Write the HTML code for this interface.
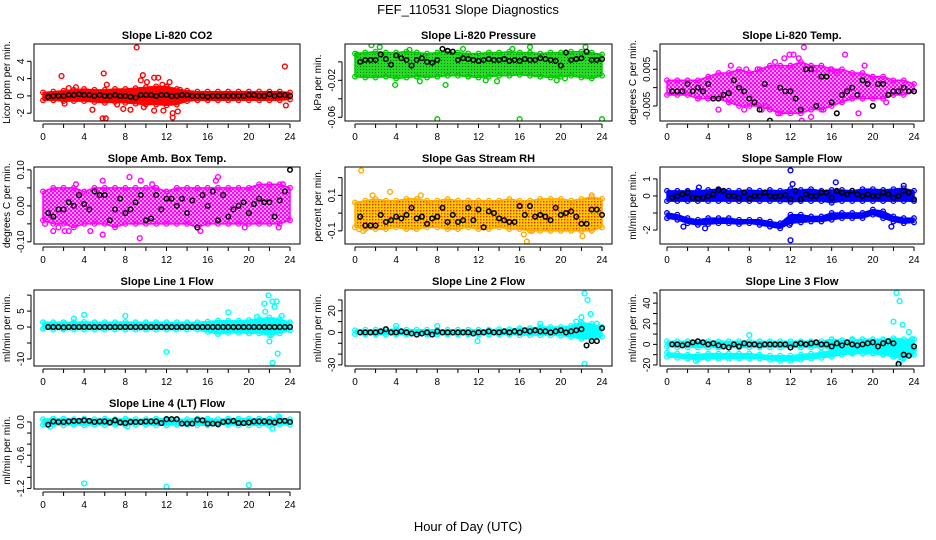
<!DOCTYPE html>
<html><head><meta charset="utf-8"><style>
html,body{margin:0;padding:0;background:#fff;}
svg{display:block;font-family:"Liberation Sans",sans-serif;}
</style></head><body>
<svg id="chart" width="936" height="540" viewBox="0 0 936 540" xmlns="http://www.w3.org/2000/svg">
<defs>
<pattern id="pat-green" width="3" height="3" patternUnits="userSpaceOnUse"><rect width="3" height="3" fill="#22dd22"/><rect width="1" height="1" fill="#0a5a0a"/></pattern>
<pattern id="pat-orange" width="3" height="3" patternUnits="userSpaceOnUse"><rect width="3" height="3" fill="#ffcc00"/><rect width="1.4" height="1.4" fill="#ee2200"/></pattern>
<pattern id="pat-magenta" width="4" height="4" patternUnits="userSpaceOnUse"><rect width="4" height="4" fill="#ff99ff"/><rect width="2" height="2" fill="#ff00ff"/><rect x="2" y="2" width="2" height="2" fill="#ff00ff"/></pattern>
</defs>
<text x="468" y="14" text-anchor="middle" font-size="13">FEF_110531  Slope Diagnostics</text>
<text x="468" y="531" text-anchor="middle" font-size="13">Hour of Day (UTC)</text>
</svg>
<script>
// ---- data ----
const bandHours=[0,1,2,3,4,5,6,7,8,9,10,11,12,13,14,15,16,17,18,19,20,21,22,23,24];
const blackHours=[0.5,1,1.5,2,2.5,3,3.5,4,4.5,5,5.5,6,6.5,7,7.5,8,8.5,9,9.5,10,10.5,11,11.5,12,12.5,13,13.5,14,14.5,15,15.5,16,16.5,17,17.5,18,18.5,19,19.5,20,20.5,21,21.5,22,22.5,23,23.5,24];

const co2Lo=[-0.5,-0.5,-0.6,-0.6,-0.6,-0.7,-0.8,-0.7,-0.8,-0.9,-1,-1,-1.1,-1,-0.6,-0.5,-0.5,-0.5,-0.5,-0.5,-0.5,-0.5,-0.5,-0.5,-0.4];
const co2Hi=[0.4,0.5,0.6,0.7,0.8,0.7,0.7,0.8,0.8,0.9,1,1.1,1.1,0.8,0.6,0.5,0.5,0.5,0.5,0.5,0.5,0.5,0.5,0.5,0.4];
const co2PtsX=[1.8,5.9,6.2,9.1,9.7,9.5,10.1,10.8,11.2,12.3,11.6,4.8,5.8,6.1,7.8,8.5,10.8,11.7,12.6,12.6,13.1,9.8,23.5,23.6,3.2,2.1,13.3,12.0,2.5,7.2];
const co2PtsY=[2.3,2.6,1.3,5.6,2.4,1.8,1.6,2.1,2.1,1.6,1.3,-1.6,-2.6,-2.6,-1.5,-1.6,-1.7,-1.7,-2.0,-2.5,-1.8,-1.3,3.4,-1.1,1.0,-0.9,0.7,1.1,0.9,-1.0];
const co2Black=[-0.1,0,0,0,0.1,0.1,0.2,0.1,0.1,0,0.1,0,0,0.1,0,0,-0.1,-0.2,0.1,0.1,0.1,0,0.1,0.1,0,0,0.1,0.1,0,0,0,-0.1,0,0,0,0,0,0,0,0.1,0.1,0,0,0.2,0,0.1,0.1,0];

const presLo=[-0.016,-0.017,-0.017,-0.016,-0.018,-0.017,-0.016,-0.017,-0.016,-0.015,-0.015,-0.016,-0.017,-0.016,-0.015,-0.015,-0.014,-0.015,-0.016,-0.017,-0.016,-0.015,-0.017,-0.018,-0.015];
const presHi=[0.009,0.010,0.011,0.010,0.010,0.011,0.010,0.009,0.010,0.011,0.010,0.009,0.009,0.010,0.010,0.011,0.010,0.010,0.009,0.010,0.010,0.011,0.011,0.010,0.008];
const presPtsX=[8,16,24,1.6,8.8,3.9,0.2,2.4,5.3,10.5,12.7,17,15.3,22.4,20.4,6.3,13.8,19.6];
const presPtsY=[-0.062,-0.062,-0.062,0.018,-0.025,-0.025,0.008,0.016,0.013,0.014,-0.02,0.016,0.014,0.016,-0.018,-0.021,-0.021,-0.02];
const presBlack=[0,0.002,0.002,0.002,0.008,0.003,-0.003,0.007,0.004,0.002,-0.004,0.002,0.004,0,-0.001,0.002,0.014,0.012,0.011,0.002,0.004,0.003,0.002,0.001,0.002,0.003,0.002,0.002,0.003,0.001,0.002,0.001,0.003,0.002,0.002,0.004,0.003,0.002,0.001,-0.004,0.010,0.002,0.003,0.004,0.011,0.002,0.002,0.003];

const tempLo=[-0.002,-0.002,-0.002,-0.003,-0.003,-0.003,-0.004,-0.005,-0.005,-0.005,-0.006,-0.007,-0.007,-0.007,-0.006,-0.006,-0.005,-0.004,-0.003,-0.003,-0.003,-0.003,-0.002,-0.002,-0.001];
const tempHi=[0.002,0.002,0.002,0.002,0.003,0.004,0.004,0.005,0.004,0.005,0.006,0.006,0.006,0.007,0.006,0.006,0.005,0.005,0.004,0.004,0.003,0.003,0.002,0.002,0.001];
const tempPtsX=[5,6.2,7.5,8.8,9.2,10.5,11.4,11.9,12.3,12.8,13.3,14,14.3,15.2,16.5,17.3,18.6,19.2,13.1,7.7,10.8,9.6,15.9,21.3];
const tempPtsY=[-0.006,0.006,-0.006,0.005,-0.006,0.007,0.008,0.009,0.009,0.008,0.011,-0.008,0.005,-0.006,0.004,0.009,-0.007,0.006,-0.009,0.005,-0.007,-0.005,0.005,-0.004];
const tempBlack=[-0.001,-0.001,-0.001,0.001,-0.001,0,-0.001,0.001,-0.003,-0.003,-0.002,-0.0015,0.002,0,-0.001,-0.003,-0.004,-0.006,0.001,-0.009,-0.011,0,-0.001,-0.001,-0.003,-0.006,0.005,0.005,-0.005,0.003,0.003,-0.004,-0.007,-0.002,-0.001,0,-0.002,0.002,0.001,-0.005,0.001,0.001,-0.002,-0.001,-0.001,0,-0.001,-0.001];

const ambLo=[-0.04,-0.05,-0.05,-0.06,-0.05,-0.05,-0.05,-0.06,-0.05,-0.05,-0.05,-0.05,-0.05,-0.05,-0.05,-0.06,-0.05,-0.05,-0.05,-0.05,-0.05,-0.05,-0.05,-0.05,-0.04];
const ambHi=[0.04,0.05,0.05,0.05,0.04,0.05,0.05,0.05,0.05,0.05,0.05,0.05,0.04,0.05,0.05,0.05,0.05,0.05,0.05,0.05,0.05,0.06,0.06,0.06,0.05];
const ambPtsX=[1,2.5,3.2,5.8,8.4,9.5,9.4,10.6,5.8,1.5,2.1,4.6,15.3,17,16.8,19.6,22.9,0.2,23.3];
const ambPtsY=[-0.07,-0.07,0.06,0.07,0.08,0.07,-0.09,0.06,-0.08,-0.06,-0.07,-0.07,-0.07,0.08,0.07,-0.06,-0.06,-0.05,0.06];
const ambBlack=[-0.02,-0.03,-0.01,-0.01,0.01,0,0.03,0.005,-0.01,0.04,0.03,0.03,-0.04,-0.01,0.02,-0.02,-0.01,0.01,0.03,-0.04,-0.035,0.03,-0.01,0.02,0.02,0,0.02,-0.02,0.015,-0.06,0.03,0,0.04,-0.04,0.03,-0.03,-0.01,0,0.01,-0.02,0.005,0.02,0.01,0.01,-0.03,0.015,0.04,0.1];

const rhLo=[-0.08,-0.09,-0.09,-0.09,-0.08,-0.09,-0.09,-0.08,-0.08,-0.09,-0.09,-0.08,-0.09,-0.09,-0.08,-0.09,-0.09,-0.1,-0.1,-0.1,-0.1,-0.1,-0.1,-0.1,-0.08];
const rhHi=[0.06,0.07,0.08,0.07,0.07,0.08,0.08,0.07,0.07,0.08,0.07,0.07,0.07,0.07,0.07,0.08,0.07,0.07,0.08,0.08,0.08,0.07,0.08,0.09,0.08];
const rhPtsX=[0.6,3.4,16.7,0.4,1.7,6.4,0.8,16.4,17.2,22.1,23];
const rhPtsY=[0.24,0.12,-0.16,-0.09,0.1,0.1,-0.1,-0.12,-0.1,-0.13,0.1];
const rhBlack=[-0.02,-0.07,-0.07,-0.07,-0.01,-0.05,-0.04,-0.02,-0.03,-0.01,0.03,-0.03,-0.02,-0.06,-0.03,-0.02,0.03,-0.05,-0.01,-0.05,-0.04,0.03,-0.04,0.02,-0.08,0.01,0,-0.03,-0.04,-0.05,-0.05,0.04,-0.01,0.04,-0.02,-0.01,-0.02,-0.04,0.03,-0.01,0,0.01,-0.02,-0.06,-0.06,0.02,0.02,-0.01];

const flowLo=[-0.3,-0.3,-0.3,-0.3,-0.3,-0.3,-0.3,-0.3,-0.3,-0.3,-0.3,-0.3,-0.35,-0.3,-0.3,-0.3,-0.4,-0.3,-0.3,-0.3,-0.3,-0.3,-0.3,-0.3,-0.3];
const flowHi=[0.3,0.3,0.3,0.3,0.35,0.4,0.3,0.3,0.35,0.3,0.35,0.3,0.4,0.35,0.4,0.3,0.35,0.35,0.3,0.4,0.4,0.35,0.4,0.45,0.3];
const flowLo2=[-1.3,-1.4,-1.6,-1.7,-1.65,-1.6,-1.6,-1.65,-1.6,-1.7,-1.8,-1.9,-1.6,-1.55,-1.5,-1.5,-1.4,-1.3,-1.3,-1.3,-1.1,-1.3,-1.5,-1.6,-1.55];
const flowHi2=[-1.0,-1.1,-1.3,-1.4,-1.3,-1.3,-1.3,-1.4,-1.4,-1.4,-1.5,-1.6,-1.1,-1.1,-1.2,-1.2,-1.0,-1.0,-1.0,-1.0,-0.8,-0.9,-1.2,-1.3,-1.3];
const flowPtsX=[12,12,16.4,3.7,1.6,21.8,23,3.1,12.2,11.9];
const flowPtsY=[1.5,-2.6,0.8,-1.9,-1.8,-1.8,0.6,0.5,0.7,-1.7];
const flowBlack=[-0.1,0,0.1,0.2,-0.1,-0.15,-0.1,0,0.1,0.35,0.3,0,0,-0.1,0.2,-0.15,0,0,0.2,0,-0.05,0,0.05,-0.2,0.3,-0.2,0.1,0,0,0.2,0.2,-0.1,0.3,0.2,0.1,0.3,0.1,0,0.1,0,0,0.2,0.1,-0.1,0,0.3,0.2,-0.2];

const l1Lo=[-0.5,-0.8,-0.8,-0.8,-0.8,-0.8,-0.8,-0.8,-0.8,-0.8,-0.8,-0.8,-0.8,-0.8,-0.8,-0.8,-1.5,-2.2,-1.8,-1.8,-2,-2,-2.5,-2,-1];
const l1Hi=[1.5,1.5,1.5,1.5,1.6,1.5,1.5,1.5,1.6,1.5,1.5,1.5,1.5,1.5,1.5,1.5,1.7,2,2,2,2.2,2.5,3,2.5,1.5];
const l1PtsX=[21.9,22.3,22.7,21.5,22.5,21.6,18,4,8,22,22.3,22.8,12,23.2,22.2,3,20.8];
const l1PtsY=[9.9,8,8,7.3,6.3,4.8,4.6,3.8,3.5,-4.5,-11.2,-8.3,-7.8,3.5,-2.5,2.6,3.2];
const l1Black=[0,0,0,-0.1,0,0,0,0,0,0,0,0,0,0,0,0,0,0,0,0,0,0,0,0,0,0,0,0,0,0,0,0,0,0,0,0,0,0,0,0,0,0,0,0,0,0,0,0];

const l2Lo=[-1.5,-2,-2,-2,-2,-2,-2,-2,-2,-2,-2,-2,-2,-2,-2,-2,-2.5,-2.5,-2.5,-2.5,-3,-4,-6,-6,-4];
const l2Hi=[2,2.5,2.5,3,3,2.5,2.5,2.5,2.5,2.5,2.5,2.5,2.5,2.5,3,3,4,4,5,5,5,6,9,8,5];
const l2PtsX=[22.3,22.6,22.9,22,21.5,11.9,22.3,18,8,4,23.5];
const l2PtsY=[36,30,17,14,10,-8,-29,8,6,6,8];
const l2Black=[0,0,0,0,1,3,0,0,1,0,-1,-2,-1,0,-2,1,0,0,0,0,0,0,-1,0,0,1,0,0,1,0,1,0,2,1,2,1,1,0,1,2,0,1,2,3,-12,-8,-8,4];

const l3Lo=[-2,-3,-3,-3,-3,-3,-3,-3,-3,-3,-3,-3,-3,-3,-3,-3,-4,-8,-8,-9,-9,-10,-12,-14,-6];
const l3Hi=[3,3,3,3,3,3,3,3,3,3,3,3,3,3,3,3,5,4,4,5,5,5,6,5,5];
const l3Lo2=[-12,-13,-14,-15,-14,-14,-14,-14,-14,-14,-15,-16,-16,-15,-14,-13,-12,-10,-9,-9,-9,-10,-12,-13,-10];
const l3Hi2=[-8,-9,-10,-10,-9,-9,-9,-9,-9,-10,-11,-11,-11,-10,-9,-8,-6,-5,-4,-4,-4,-5,-6,-6,-4];
const l3PtsX=[22.3,22.6,22,22.9,8,23.5,23.8,22.6,2.8,18];
const l3PtsY=[50,42,22,19,9,12,5,-17,-16,5];
const l3Black=[0,0,-1,0,2,3,2,0,1,-1,-2,-3,0,-2,1,0,0,-1,0,0,0,0,0,-3,0,1,0,1,2,0,0,-2,1,-1,2,0,-1,0,1,2,-2,1,3,1,-19,-10,-11,-2];

const l4Lo=[-0.05,-0.05,-0.06,-0.05,-0.06,-0.05,-0.06,-0.05,-0.06,-0.05,-0.05,-0.06,-0.06,-0.05,-0.05,-0.06,-0.06,-0.05,-0.05,-0.06,-0.06,-0.06,-0.07,-0.05,-0.05];
const l4Hi=[0.05,0.06,0.06,0.05,0.06,0.05,0.06,0.05,0.06,0.05,0.05,0.06,0.06,0.05,0.05,0.06,0.06,0.05,0.06,0.06,0.06,0.06,0.06,0.07,0.05];
const l4PtsX=[4,12,20,22.3,22.9,0.7,8.2];
const l4PtsY=[-1.11,-1.17,-1.14,-0.12,0.1,-0.08,-0.08];
const l4Black=[-0.05,0.01,0,0,0.01,0.02,0.02,0.03,0.02,0,0.01,0.01,-0.01,0.03,-0.01,-0.02,0,0,0,0.01,0.01,0.01,-0.02,0.05,0.05,0.05,-0.03,-0.03,-0.03,0.04,0.03,-0.03,-0.03,-0.04,0,0.01,0.02,-0.02,-0.02,-0.01,0.01,0.01,0.01,0,-0.01,0.02,0.02,0];

// ---- layout ----
const NS="http://www.w3.org/2000/svg";
const svg=document.getElementById('chart');
const colL=[34,345,660], colR=[300,612,924], colX0=[43,355,667], colX24=[290,602,914];
const rowT=[44,167,290,412], rowB=[121,244,366,489];
function mk(tag,attrs,parent){const e=document.createElementNS(NS,tag);for(const k in attrs)e.setAttribute(k,attrs[k]);(parent||svg).appendChild(e);return e;}

const panels=[
 {key:'co2',c:0,r:0,title:'Slope Li-820 CO2',ylab:'Licor ppm per min.',top:6.0,bot:-2.9,ticks:[-2,0,2,4],labels:{'-2':'-2','0':'0','2':'2','4':'4'},col:'#ff0000',fill:'#ff0000',lo:co2Lo,hi:co2Hi,px:co2PtsX,py:co2PtsY,bk:co2Black},
 {key:'pressure',c:1,r:0,title:'Slope Li-820 Pressure',ylab:'kPa per min.',top:0.0193,bot:-0.064,ticks:[-0.06,-0.04,-0.02,0],labels:{'-0.06':'-0.06','-0.02':'-0.02'},col:'#00cc00',fill:'url(#pat-green)',lo:presLo,hi:presHi,px:presPtsX,py:presPtsY,bk:presBlack},
 {key:'temp',c:2,r:0,title:'Slope Li-820 Temp.',ylab:'degrees C per min.',top:0.0119,bot:-0.0091,ticks:[-0.005,0,0.005,0.01],labels:{'-0.005':'-0.005','0.005':'0.005'},col:'#ff00ff',fill:'url(#pat-magenta)',lo:tempLo,hi:tempHi,px:tempPtsX,py:tempPtsY,bk:tempBlack},
 {key:'amb-box',c:0,r:1,title:'Slope Amb. Box Temp.',ylab:'degrees C per min.',top:0.108,bot:-0.106,ticks:[-0.1,-0.05,0,0.05,0.1],labels:{'-0.1':'-0.10','0':'0.00','0.1':'0.10'},col:'#ff00ff',fill:'url(#pat-magenta)',lo:ambLo,hi:ambHi,px:ambPtsX,py:ambPtsY,bk:ambBlack},
 {key:'rh',c:1,r:1,title:'Slope Gas Stream RH',ylab:'percent per min.',top:0.26,bot:-0.174,ticks:[-0.1,0,0.1,0.2],labels:{'-0.1':'-0.1','0.1':'0.1'},col:'#ffaa00',fill:'url(#pat-orange)',lo:rhLo,hi:rhHi,px:rhPtsX,py:rhPtsY,bk:rhBlack},
 {key:'sample-flow',c:2,r:1,title:'Slope Sample Flow',ylab:'ml/min per min.',top:1.7,bot:-2.82,ticks:[-2,-1,0,1],labels:{'-2':'-2','0':'0','1':'1'},col:'#0000ff',fill:'#0000ff',lo:flowLo,hi:flowHi,lo2:flowLo2,hi2:flowHi2,px:flowPtsX,py:flowPtsY,bk:flowBlack},
 {key:'line1',c:0,r:2,title:'Slope Line 1 Flow',ylab:'ml/min per min.',top:11.6,bot:-12.2,ticks:[-10,-5,0,5,10],labels:{'-10':'-10','0':'0','5':'5'},col:'#00ffff',fill:'#00ffff',lo:l1Lo,hi:l1Hi,px:l1PtsX,py:l1PtsY,bk:l1Black},
 {key:'line2',c:1,r:2,title:'Slope Line 2 Flow',ylab:'ml/min per min.',top:39.2,bot:-31,ticks:[-30,-20,-10,0,10,20,30],labels:{'-30':'-30','0':'0','20':'20'},col:'#00ffff',fill:'#00ffff',lo:l2Lo,hi:l2Hi,px:l2PtsX,py:l2PtsY,bk:l2Black},
 {key:'line3',c:2,r:2,title:'Slope Line 3 Flow',ylab:'ml/min per min.',top:52.8,bot:-21,ticks:[-20,-10,0,10,20,30,40,50],labels:{'-20':'-20','0':'0','20':'20','40':'40'},col:'#00ffff',fill:'#00ffff',lo:l3Lo,hi:l3Hi,lo2:l3Lo2,hi2:l3Hi2,px:l3PtsX,py:l3PtsY,bk:l3Black},
 {key:'line4',c:0,r:3,title:'Slope Line 4 (LT) Flow',ylab:'ml/min per min.',top:0.18,bot:-1.21,ticks:[0,-0.2,-0.4,-0.6,-0.8,-1,-1.2],labels:{'0':'0.0','-0.6':'-0.6','-1.2':'-1.2'},col:'#00ffff',fill:'#00ffff',lo:l4Lo,hi:l4Hi,px:l4PtsX,py:l4PtsY,bk:l4Black}
];

panels.forEach(p=>{
  const L=colL[p.c],R=colR[p.c],T=rowT[p.r],B=rowB[p.r];
  const xs=h=>colX0[p.c]+(colX24[p.c]-colX0[p.c])*h/24;
  const ys=v=>T+(p.top-v)/(p.top-p.bot)*(B-T);
  const g=mk('g',{});
  
  
  const cp=mk('clipPath',{id:'clip-'+p.key},g);
  mk('rect',{x:L,y:T,width:R-L,height:B-T},cp);
  const plot=mk('g',{'clip-path':'url(#clip-'+p.key+')'},g);
  
  
  function band(lo,hi,nm){
    let pts=bandHours.map((h,i)=>xs(h)+','+ys(hi[i]));
    pts=pts.concat(bandHours.map((h,i)=>xs(h)+','+ys(lo[i])).reverse());
    const b=mk('polygon',{points:pts.join(' '),fill:p.fill,stroke:p.col,'stroke-width':1.5,'stroke-linejoin':'round'},plot);
    
    
    bandHours.forEach((h,i)=>{
      [lo[i],hi[i]].forEach(v=>{
        const c=mk('circle',{cx:xs(h),cy:ys(v),r:2.3,fill:'none',stroke:p.col,'stroke-width':1.3},plot);
        
        
      });
    });
  }
  band(p.lo,p.hi,'point-cloud-'+p.key);
  if(p.lo2) band(p.lo2,p.hi2,'point-cloud-lower-'+p.key);
  p.px.forEach((x,i)=>{
    const c=mk('circle',{cx:xs(x),cy:ys(p.py[i]),r:2.4,fill:'none',stroke:p.col,'stroke-width':1.4},plot);
    
    
  });
  blackHours.forEach((h,i)=>{
    const c=mk('circle',{cx:xs(h),cy:ys(p.bk[i]),r:2.3,fill:'none',stroke:'#000','stroke-width':1.5},plot);
    
    
  });
  const box=mk('rect',{x:L,y:T,width:R-L,height:B-T,fill:'none',stroke:'#000','stroke-width':1},g);
  
  
  const t=mk('text',{x:(L+R)/2,y:T-5,'text-anchor':'middle','font-size':11,'font-weight':'bold'},g);
  t.textContent=p.title;
  
  
  const xa=mk('g',{},g);
  
  
  mk('line',{x1:xs(0),x2:xs(24),y1:B+3,y2:B+3,stroke:'#000'},xa);
  for(let h=0;h<=24;h+=2){
    mk('line',{x1:xs(h),x2:xs(h),y1:B+3,y2:B+7,stroke:'#000'},xa);
    if(h%4===0){const tl=mk('text',{x:xs(h),y:B+19,'text-anchor':'middle','font-size':10},xa);tl.textContent=h;
      
      }
  }
  const ya=mk('g',{},g);
  
  
  const tv=p.ticks.map(ys);
  mk('line',{x1:L-3,x2:L-3,y1:Math.min(...tv),y2:Math.max(...tv),stroke:'#000'},ya);
  p.ticks.forEach(v=>{
    const y=ys(v);
    mk('line',{x1:L-7,x2:L-3,y1:y,y2:y,stroke:'#000'},ya);
    const lab=p.labels[String(v)];
    if(lab!==undefined){const tl=mk('text',{x:L-10,y:y,'text-anchor':'middle','font-size':10,transform:'rotate(-90 '+(L-10)+' '+y+')'},ya);tl.textContent=lab;
      
      }
  });
  const yl=mk('text',{x:L-24,y:(T+B)/2,'text-anchor':'middle','font-size':10,transform:'rotate(-90 '+(L-24)+' '+((T+B)/2)+')'},g);
  yl.textContent=p.ylab;
  
  
});
</script>
</body></html>
